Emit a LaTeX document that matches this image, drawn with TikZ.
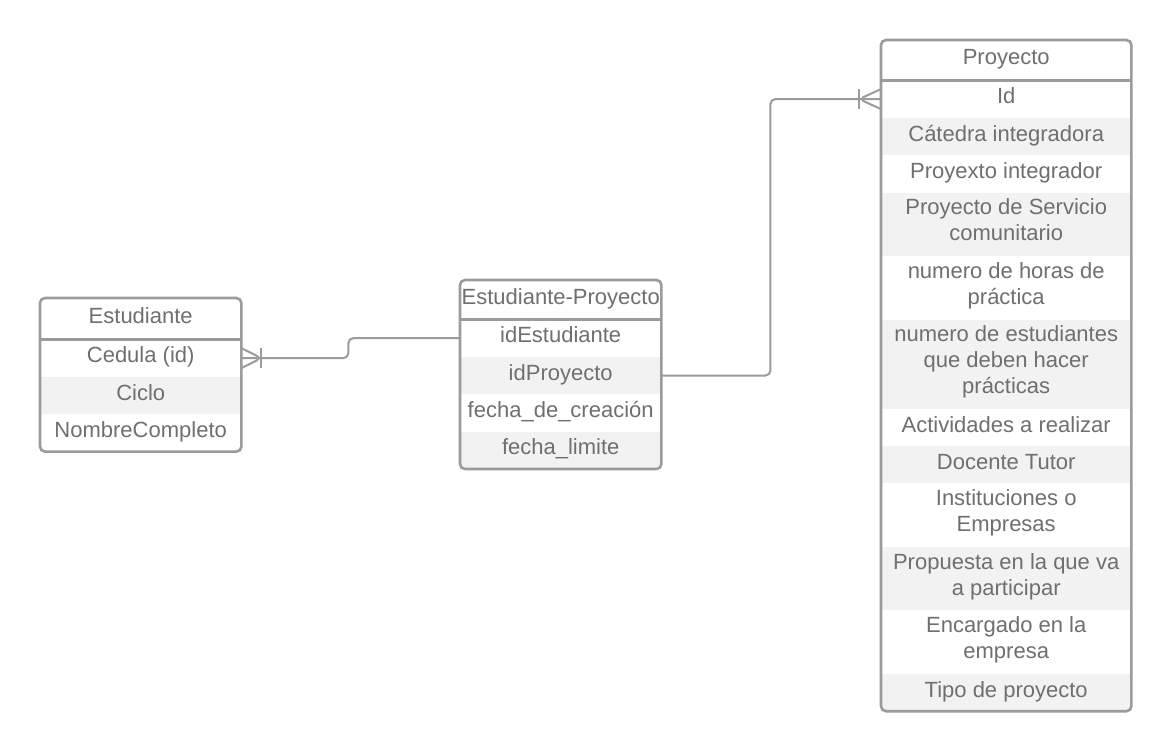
\documentclass[tikz,border=0pt]{standalone}
\usepackage{fontspec}
\setmainfont{Liberation Sans}
\usepackage{tikz}
\usetikzlibrary{positioning}
\definecolor{linegray}{HTML}{9B9B9B}
\definecolor{textgray}{HTML}{6F6F6F}
\definecolor{rowgray}{HTML}{F2F2F2}

\begin{document}
\begin{tikzpicture}[x=1pt, y=1pt, every node/.style={font=\fontsize{22}{26}\selectfont, text=textgray, align=center, inner sep=0pt, execute at begin node={\rule{0pt}{18pt}}, execute at end node={\rule[-9pt]{0pt}{9pt}}}, row/.style={minimum width=201pt, minimum height=37pt}, prow/.style={minimum width=250pt, minimum height=37pt}, shaded/.style={fill=rowgray}, tablebox/.style={draw=linegray, line width=2.6pt, rounded corners=5pt}, link/.style={draw=linegray, line width=2pt, rounded corners=5pt}]

\fill[white] (0,0) rectangle (1172,-747);
\useasboundingbox (0,0) rectangle (1172,-747);

\node[row, minimum height=41pt, anchor=north west] (estHead) at (40,-298) {Estudiante};
\node[row, below=0pt of estHead] (estCedula) {Cedula (id)};
\node[row, shaded, below=0pt of estCedula] (estCiclo) {Ciclo};
\node[row, below=0pt of estCiclo] (estNombre) {NombreCompleto};

\node[row, minimum height=39pt, anchor=north west] (epHead) at (460,-280) {Estudiante-Proyecto};
\node[row, below=0pt of epHead] (epIdEst) {idEstudiante};
\node[row, shaded, below=0pt of epIdEst] (epIdPro) {idProyecto};
\node[row, below=0pt of epIdPro] (epFecha) {fecha\_de\_creación};
\node[row, shaded, below=0pt of epFecha] (epLimite) {fecha\_limite};

\node[prow, minimum height=40pt, anchor=north west] (pHead) at (881,-40) {Proyecto};
\node[prow, below=0pt of pHead] (pId) {Id};
\node[prow, shaded, below=0pt of pId] (pCatedra) {Cátedra integradora};
\node[prow, below=0pt of pCatedra] (pIntegrador) {Proyexto integrador};
\node[prow, shaded, minimum height=63pt, below=0pt of pIntegrador] (pServicio) {Proyecto de Servicio\\comunitario};
\node[prow, minimum height=63pt, below=0pt of pServicio] (pHoras) {numero de horas de\\práctica};
\node[prow, shaded, minimum height=89pt, below=0pt of pHoras] (pEstud) {numero de estudiantes\\que deben hacer\\prácticas};
\node[prow, below=0pt of pEstud] (pActiv) {Actividades a realizar};
\node[prow, shaded, below=0pt of pActiv] (pDocente) {Docente Tutor};
\node[prow, minimum height=63pt, below=0pt of pDocente] (pInstit) {Instituciones o\\Empresas};
\node[prow, shaded, minimum height=63pt, below=0pt of pInstit] (pPropuesta) {Propuesta en la que va\\a participar};
\node[prow, minimum height=63pt, below=0pt of pPropuesta] (pEncargado) {Encargado en la\\empresa};
\node[prow, shaded, below=0pt of pEncargado] (pTipo) {Tipo de proyecto};

\draw[tablebox] (estHead.north west) rectangle (estNombre.south east);
\draw[tablebox] (estHead.south west) -- (estHead.south east);
\draw[tablebox] (epHead.north west) rectangle (epLimite.south east);
\draw[tablebox] (epHead.south west) -- (epHead.south east);
\draw[tablebox] (pHead.north west) rectangle (pTipo.south east);
\draw[tablebox] (pHead.south west) -- (pHead.south east);

\draw[link] (estCedula.east) -- ++(107,0) |- (epIdEst.west);
\draw[link] (epIdPro.east) -- ++(109,0) |- (pId.west);

\draw[link] ([yshift=10pt]estCedula.east) -- ([xshift=20pt]estCedula.east) -- ([yshift=-10pt]estCedula.east);
\draw[link] ([xshift=20pt,yshift=10pt]estCedula.east) -- ([xshift=20pt,yshift=-10pt]estCedula.east);
\draw[link] ([yshift=10pt]pId.west) -- ([xshift=-22pt]pId.west) -- ([yshift=-10pt]pId.west);
\draw[link] ([xshift=-22pt,yshift=10pt]pId.west) -- ([xshift=-22pt,yshift=-10pt]pId.west);
\end{tikzpicture}
\end{document}
